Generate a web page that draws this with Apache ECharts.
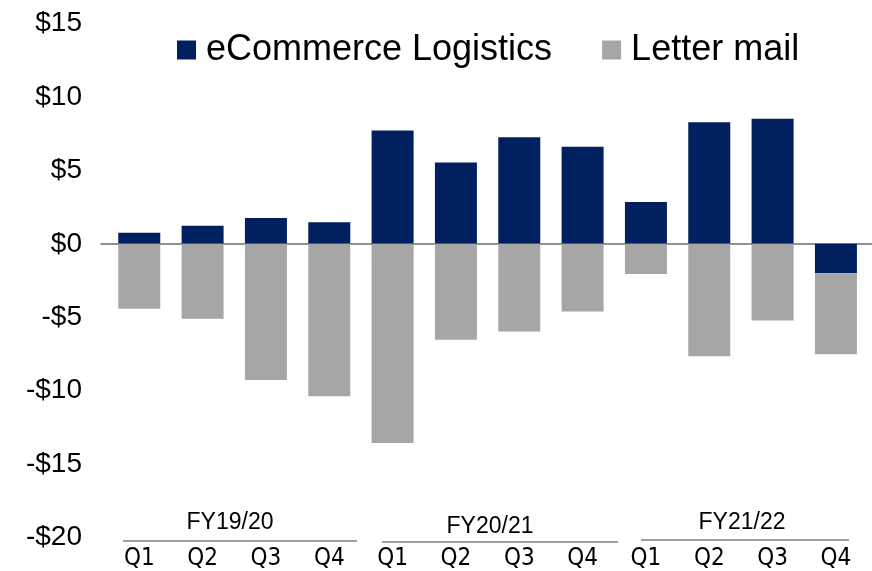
<!DOCTYPE html>
<html>
<head>
<meta charset="utf-8">
<script src="https://cdn.jsdelivr.net/npm/echarts@6/dist/echarts.min.js"></script>
<style>html,body{margin:0;padding:0;background:#fff;}#c{width:872px;height:571px;}</style>
</head>
<body>
<div id="c"></div>
<script>
const quarters = ['Q1','Q2','Q3','Q4','Q1','Q2','Q3','Q4','Q1','Q2','Q3','Q4'];
const fiscalYears = ['FY19/20','FY20/21','FY21/22'];
const ecommerce = [0.75, 1.23, 1.75, 1.47, 7.72, 5.54, 7.25, 6.61, 2.84, 8.27, 8.52, -2.0];
const letterMail = [-4.43, -5.11, -9.27, -10.39, -13.57, -6.54, -5.98, -4.61, -2.05, -7.66, -5.23, -5.53];
const yTicks = [-20, -15, -10, -5, 0, 5, 10, 15];

const FONT = "'Liberation Sans', Arial, sans-serif";
const NARROW = "'Liberation Sans Narrow', 'Arial Narrow', 'DejaVu Sans Condensed', 'Liberation Sans', sans-serif";
const chart = echarts.init(document.getElementById('c'), null, {renderer: 'canvas'});

const fyLabels = [
  {text: fiscalYears[0], x: 230, y: 523, x1: 123, x2: 357, ly: 541},
  {text: fiscalYears[1], x: 490, y: 527, x1: 382, x2: 618, ly: 542},
  {text: fiscalYears[2], x: 742, y: 523, x1: 641, x2: 849, ly: 540}
];
const graphics = [];
fyLabels.forEach(g => {
  graphics.push({type: 'text', x: g.x, y: g.y, style: {text: g.text, font: '23px ' + FONT, fill: '#000', textAlign: 'center', textVerticalAlign: 'middle'}});
  graphics.push({type: 'line', shape: {x1: g.x1, y1: g.ly, x2: g.x2, y2: g.ly}, style: {stroke: '#808080', lineWidth: 1.5}});
});

chart.setOption({
  animation: false,
  textStyle: {fontFamily: FONT},
  legend: {
    top: 27, left: 172,
    itemWidth: 19, itemHeight: 19, itemGap: 50,
    icon: 'rect',
    textStyle: {fontSize: 36, color: '#000', fontFamily: FONT, lineHeight: 36, padding: [0,0,0,5]},
    data: ['eCommerce Logistics', 'Letter mail']
  },
  grid: [
    {left: 107.6, right: 4.4, top: 23.5, bottom: 33.5, outerBoundsMode: 'none', containLabel: false},
    {left: 101, right: 0, top: 23.5, bottom: 33.5, outerBoundsMode: 'none', containLabel: false}
  ],
  xAxis: [
    {
      type: 'category', gridIndex: 0, data: quarters,
      axisLine: {show: false}, axisTick: {show: false},
      axisLabel: {fontSize: 24, fontFamily: NARROW, color: '#000', margin: 21.5, verticalAlign: 'middle', lineHeight: 24}
    },
    {
      type: 'value', gridIndex: 1, min: 0, max: 1,
      axisLine: {show: true, onZero: true, lineStyle: {color: '#6e6e6e', width: 1.5}},
      axisTick: {show: false}, axisLabel: {show: false}, splitLine: {show: false}
    }
  ],
  yAxis: [
    {
      type: 'value', gridIndex: 0, min: yTicks[0], max: yTicks[yTicks.length-1], interval: 5,
      axisLine: {show: false}, axisTick: {show: false}, splitLine: {show: false},
      axisLabel: {
        fontSize: 28, color: '#000', margin: 25.6, fontFamily: FONT,
        formatter: v => (v < 0 ? '-$' + Math.abs(v) : '$' + v)
      }
    },
    {
      type: 'value', gridIndex: 1, min: yTicks[0], max: yTicks[yTicks.length-1],
      axisLine: {show: false}, axisTick: {show: false}, splitLine: {show: false}, axisLabel: {show: false}
    }
  ],
  series: [
    {
      name: 'eCommerce Logistics', type: 'bar', stack: 'total', xAxisIndex: 0, yAxisIndex: 0,
      barWidth: 42, data: ecommerce,
      itemStyle: {color: '#00205F'}
    },
    {
      name: 'Letter mail', type: 'bar', stack: 'total', xAxisIndex: 0, yAxisIndex: 0,
      barWidth: 42, data: letterMail,
      itemStyle: {color: '#A6A6A6'}
    }
  ],
  graphic: graphics
});
</script>
</body>
</html>
